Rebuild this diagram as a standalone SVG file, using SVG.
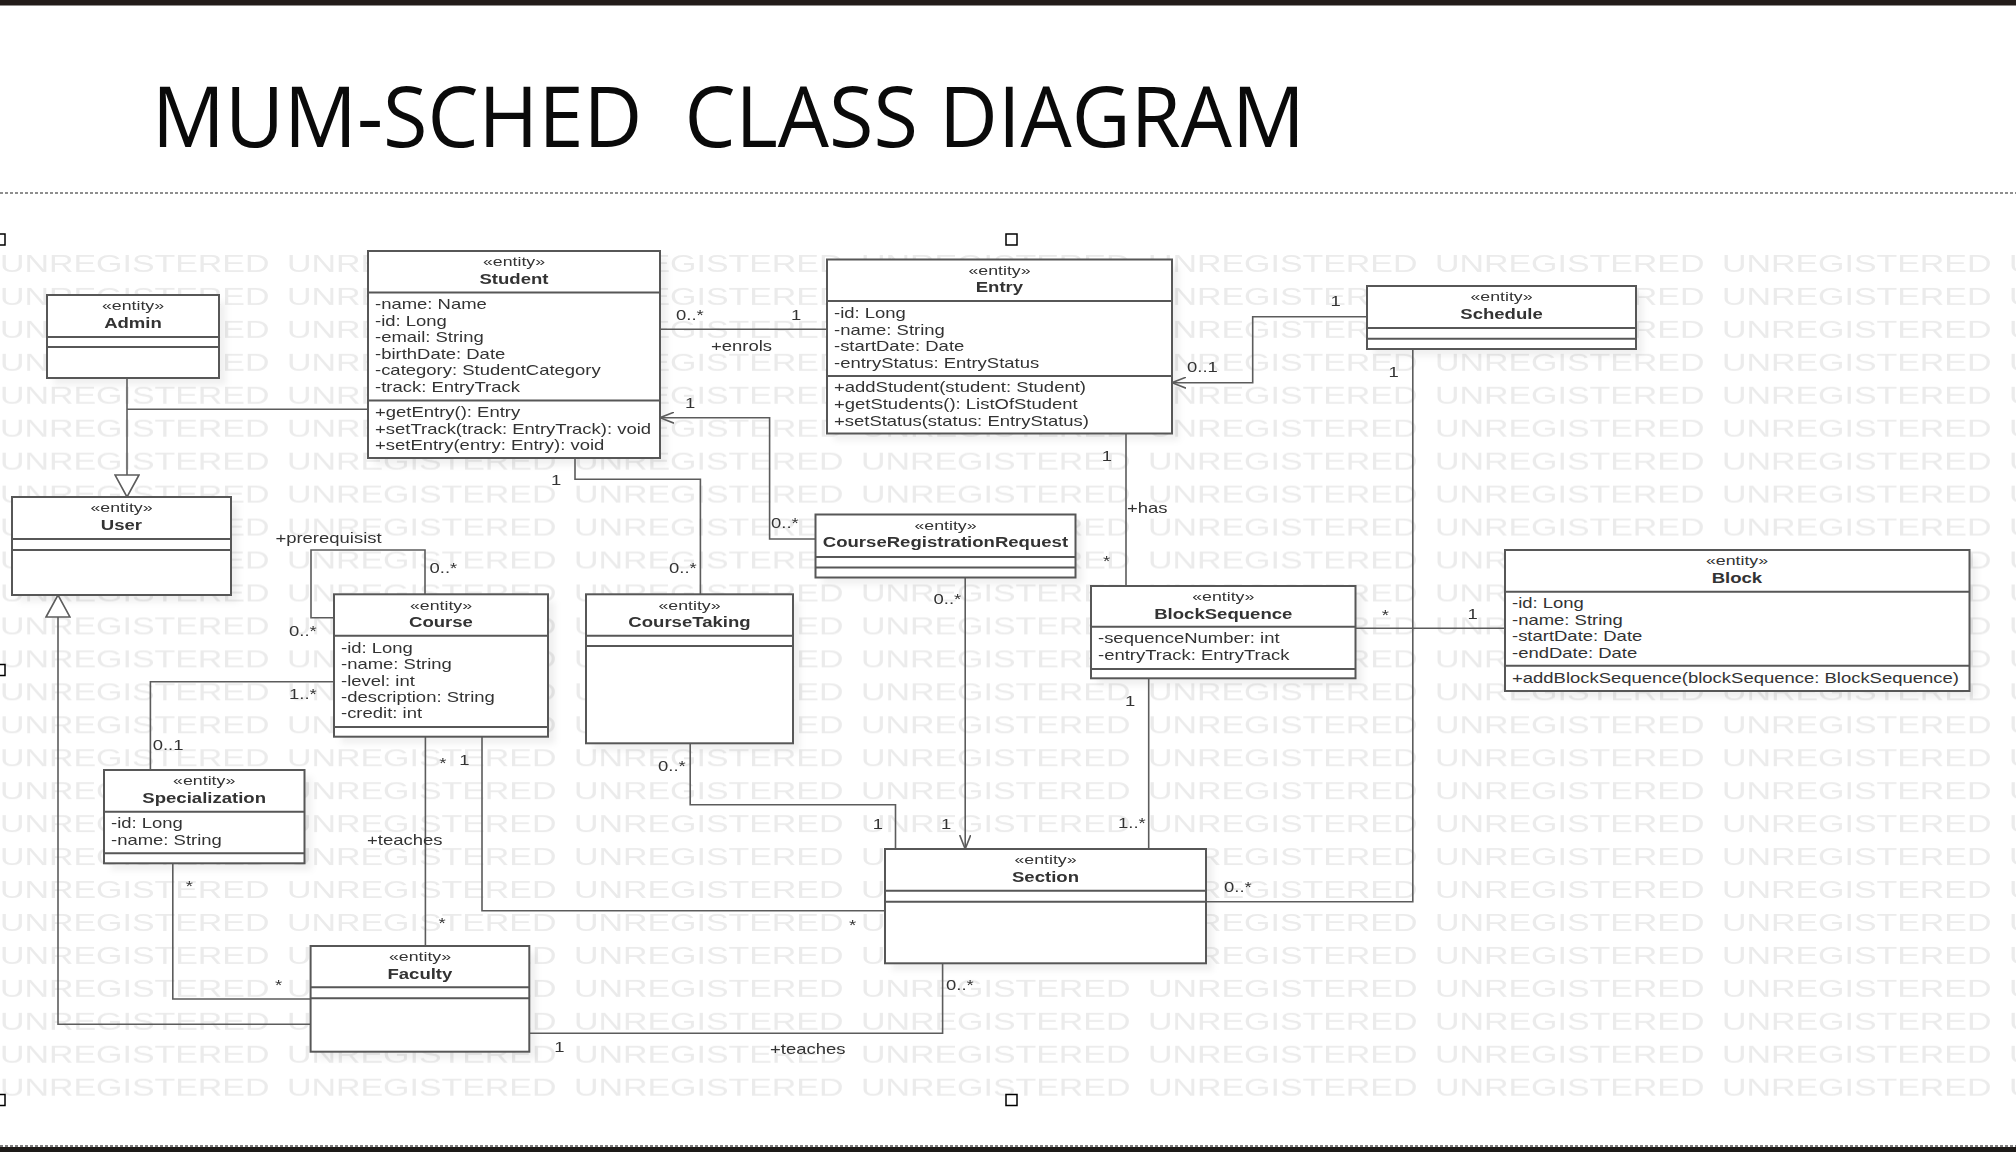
<svg xmlns="http://www.w3.org/2000/svg" width="2016" height="1152" viewBox="0 0 2016 1152">
<style>
text{font-family:"Liberation Sans",Arial,sans-serif;fill:#333}
.title{font-family:"Open Sans","Noto Sans",sans-serif;font-size:84px;fill:#0a0a0a;white-space:pre}
.wm{font-size:24.5px;fill:#ebebeb}
.box{fill:#fff;stroke:#575757;stroke-width:2}
.dv{stroke:#575757;stroke-width:2;fill:none}
.sh{fill:#000;opacity:.06}
.ln{fill:none;stroke:#5c5c5c;stroke-width:1.6}
.st{font-size:12.5px;text-anchor:middle;transform-box:fill-box;transform-origin:50% 50%;transform:scaleX(1.42)}
.nm{font-size:14.5px;font-weight:bold;text-anchor:middle;transform-box:fill-box;transform-origin:50% 50%;transform:scaleX(1.28)}
.at,.lb{font-size:14px;transform-box:fill-box;transform-origin:0 50%;transform:scaleX(1.32)}
.hd{fill:#fff;stroke:#000;stroke-width:1.5}
</style>
<defs>
<pattern id="wm" patternUnits="userSpaceOnUse" x="0" y="252" width="287" height="32.95">
<text x="0" y="19.7" transform="scale(1.385 1)" class="wm">UNREGISTERED</text>
</pattern>
<marker id="arr" viewBox="0 0 14 12" refX="14" refY="6" markerWidth="14" markerHeight="12" markerUnits="userSpaceOnUse" orient="auto">
<path d="M0,0.5 L14,6 L0,11.5" fill="none" stroke="#5c5c5c" stroke-width="1.6"/>
</marker>
<marker id="gen" viewBox="0 0 24 26" refX="23" refY="13" markerWidth="24" markerHeight="26" markerUnits="userSpaceOnUse" orient="auto">
<path d="M1,1 L23,13 L1,25 Z" fill="#fff" stroke="#5c5c5c" stroke-width="1.6"/>
</marker>
<filter id="blur" x="-10%" y="-10%" width="120%" height="120%"><feGaussianBlur stdDeviation="3"/></filter>
</defs>
<rect x="0" y="0" width="2016" height="1152" fill="#fff"/>
<rect x="0" y="0" width="2016" height="5.5" fill="#231c19"/>
<text class="title" x="152" y="147" textLength="1153" lengthAdjust="spacingAndGlyphs" xml:space="preserve">MUM-SCHED  CLASS DIAGRAM</text>
<line x1="0" y1="193" x2="2016" y2="193" stroke="#6a6a6a" stroke-width="1.5" stroke-dasharray="3 2"/>
<rect x="0" y="252" width="2016" height="856.7" fill="url(#wm)"/>
<line x1="0" y1="1146" x2="2016" y2="1146" stroke="#555" stroke-width="1.5" stroke-dasharray="3 2"/>
<rect x="0" y="1147" width="2016" height="5" fill="#1d1a18"/>
<g id="handles">
<rect class="hd" x="-6" y="234" width="11" height="11"/>
<rect class="hd" x="1006" y="234" width="11" height="11"/>
<rect class="hd" x="-6" y="664.5" width="11" height="11"/>
<rect class="hd" x="-6" y="1094.5" width="11" height="11"/>
<rect class="hd" x="1006" y="1094.5" width="11" height="11"/>
</g>
<g id="shadows" filter="url(#blur)">
<rect class="sh" x="54" y="302" width="172" height="83"/>
<rect class="sh" x="19" y="504" width="219" height="98"/>
<rect class="sh" x="375" y="258" width="292" height="207"/>
<rect class="sh" x="834" y="266.5" width="345" height="174"/>
<rect class="sh" x="1374" y="293" width="269" height="63"/>
<rect class="sh" x="822.5" y="521.5" width="260" height="63"/>
<rect class="sh" x="1512" y="557" width="464.5" height="141"/>
<rect class="sh" x="1098" y="593" width="264.5" height="92.3"/>
<rect class="sh" x="341" y="601.3" width="214" height="142.4"/>
<rect class="sh" x="593" y="601.3" width="207" height="149"/>
<rect class="sh" x="111" y="777" width="200.5" height="93.3"/>
<rect class="sh" x="892" y="856" width="321" height="114.3"/>
<rect class="sh" x="317.6" y="953" width="218.7" height="105.7"/>
</g>
<g id="connectors">
<path class="ln" d="M127,378 V497" marker-end="url(#gen)"/>
<path class="ln" d="M368,409.3 H127"/>
<path class="ln" d="M310.6,1024.3 H58 V595" marker-end="url(#gen)"/>
<path class="ln" d="M660,329.3 H827"/>
<path class="ln" d="M815.6,539 H769.6 V417.7 H660" marker-end="url(#arr)"/>
<path class="ln" d="M575,458 V479.3 H700.4 V594.3"/>
<path class="ln" d="M1367,316.7 H1252.7 V382.7 H1172" marker-end="url(#arr)"/>
<path class="ln" d="M1126,433.3 V586"/>
<path class="ln" d="M965.2,577.7 V849" marker-end="url(#arr)"/>
<path class="ln" d="M1355.7,628.3 H1505"/>
<path class="ln" d="M1148.7,678.3 V849"/>
<path class="ln" d="M1206,901.7 H1412.8 V348.7"/>
<path class="ln" d="M690.2,743.3 V804.7 H895.5 V849"/>
<path class="ln" d="M425,594.3 V550 H311 V617.7 H334"/>
<path class="ln" d="M334,681.7 H150.4 V770"/>
<path class="ln" d="M425.4,736.7 V946"/>
<path class="ln" d="M482,736.7 V910.7 H885"/>
<path class="ln" d="M172.8,863.3 V999 H310.6"/>
<path class="ln" d="M529.3,1033.3 H942.6 V963.3"/>
</g>
<g id="labels">
<text class="lb" x="676" y="320">0..*</text>
<text class="lb" x="791" y="320">1</text>
<text class="lb" x="711" y="351">+enrols</text>
<text class="lb" x="685" y="407.7">1</text>
<text class="lb" x="771" y="528">0..*</text>
<text class="lb" x="551" y="485">1</text>
<text class="lb" x="669" y="573">0..*</text>
<text class="lb" x="1330.5" y="306">1</text>
<text class="lb" x="1187" y="372">0..1</text>
<text class="lb" x="1101.7" y="461">1</text>
<text class="lb" x="1127" y="512.7">+has</text>
<text class="lb" x="1103" y="566">*</text>
<text class="lb" x="933.5" y="604.3">0..*</text>
<text class="lb" x="941" y="829">1</text>
<text class="lb" x="1381.8" y="619.7">*</text>
<text class="lb" x="1467.6" y="619.3">1</text>
<text class="lb" x="1125" y="706">1</text>
<text class="lb" x="1118" y="828.3">1..*</text>
<text class="lb" x="1224" y="891.7">0..*</text>
<text class="lb" x="1388.6" y="376.7">1</text>
<text class="lb" x="658" y="770.7">0..*</text>
<text class="lb" x="872.7" y="829">1</text>
<text class="lb" x="275.4" y="543.3">+prerequisist</text>
<text class="lb" x="429.5" y="573.3">0..*</text>
<text class="lb" x="289" y="635.7">0..*</text>
<text class="lb" x="289" y="699.3">1..*</text>
<text class="lb" x="152.7" y="750">0..1</text>
<text class="lb" x="439.3" y="768">*</text>
<text class="lb" x="367" y="845">+teaches</text>
<text class="lb" x="438.4" y="928">*</text>
<text class="lb" x="459.3" y="765">1</text>
<text class="lb" x="849" y="929.7">*</text>
<text class="lb" x="185.8" y="891.3">*</text>
<text class="lb" x="275" y="989.7">*</text>
<text class="lb" x="554.3" y="1051.7">1</text>
<text class="lb" x="770" y="1054.3">+teaches</text>
<text class="lb" x="946" y="990">0..*</text>
</g>
<g id="Admin">
<rect class="box" x="47" y="295" width="172" height="83"/>
<path class="dv" d="M47,337 H219 M47,347 H219"/>
<text class="st" x="133" y="310.5">«entity»</text>
<text class="nm" x="133" y="328">Admin</text>
</g>
<g id="User">
<rect class="box" x="12" y="497" width="219" height="98"/>
<path class="dv" d="M12,539 H231 M12,550 H231"/>
<text class="st" x="121.5" y="512.2">«entity»</text>
<text class="nm" x="121.5" y="529.7">User</text>
</g>
<g id="Student">
<rect class="box" x="368" y="251" width="292" height="207"/>
<path class="dv" d="M368,292.5 H660 M368,400.5 H660"/>
<text class="st" x="514" y="266.5">«entity»</text>
<text class="nm" x="514" y="284">Student</text>
<text class="at" x="375" y="309.5">-name: Name</text>
<text class="at" x="375" y="326">-id: Long</text>
<text class="at" x="375" y="342.5">-email: String</text>
<text class="at" x="375" y="359">-birthDate: Date</text>
<text class="at" x="375" y="375.5">-category: StudentCategory</text>
<text class="at" x="375" y="392">-track: EntryTrack</text>
<text class="at" x="375" y="417.3">+getEntry(): Entry</text>
<text class="at" x="375" y="433.6">+setTrack(track: EntryTrack): void</text>
<text class="at" x="375" y="450">+setEntry(entry: Entry): void</text>
</g>
<g id="Entry">
<rect class="box" x="827" y="259.5" width="345" height="174"/>
<path class="dv" d="M827,301 H1172 M827,376 H1172"/>
<text class="st" x="999.5" y="275">«entity»</text>
<text class="nm" x="999.5" y="292.5">Entry</text>
<text class="at" x="834" y="318.3">-id: Long</text>
<text class="at" x="834" y="334.6">-name: String</text>
<text class="at" x="834" y="351">-startDate: Date</text>
<text class="at" x="834" y="367.7">-entryStatus: EntryStatus</text>
<text class="at" x="834" y="392.3">+addStudent(student: Student)</text>
<text class="at" x="834" y="409">+getStudents(): ListOfStudent</text>
<text class="at" x="834" y="425.7">+setStatus(status: EntryStatus)</text>
</g>
<g id="Schedule">
<rect class="box" x="1367" y="286" width="269" height="63"/>
<path class="dv" d="M1367,328 H1636 M1367,338.7 H1636"/>
<text class="st" x="1501.5" y="301.5">«entity»</text>
<text class="nm" x="1501.5" y="319">Schedule</text>
</g>
<g id="CourseRegistrationRequest">
<rect class="box" x="815.5" y="514.5" width="260" height="63"/>
<path class="dv" d="M815.5,557 H1075.5 M815.5,567.5 H1075.5"/>
<text class="st" x="945.5" y="530">«entity»</text>
<text class="nm" x="945.5" y="547.5">CourseRegistrationRequest</text>
</g>
<g id="Block">
<rect class="box" x="1505" y="550" width="464.5" height="141"/>
<path class="dv" d="M1505,591.7 H1969.5 M1505,665.7 H1969.5"/>
<text class="st" x="1737" y="565.5">«entity»</text>
<text class="nm" x="1737" y="583">Block</text>
<text class="at" x="1512" y="608.5">-id: Long</text>
<text class="at" x="1512" y="625">-name: String</text>
<text class="at" x="1512" y="641.5">-startDate: Date</text>
<text class="at" x="1512" y="658">-endDate: Date</text>
<text class="at" x="1512" y="683.3">+addBlockSequence(blockSequence: BlockSequence)</text>
</g>
<g id="BlockSequence">
<rect class="box" x="1091" y="586" width="264.5" height="92.3"/>
<path class="dv" d="M1091,626.7 H1355.5 M1091,669 H1355.5"/>
<text class="st" x="1223.3" y="601.5">«entity»</text>
<text class="nm" x="1223.3" y="619">BlockSequence</text>
<text class="at" x="1098" y="643.5">-sequenceNumber: int</text>
<text class="at" x="1098" y="660">-entryTrack: EntryTrack</text>
</g>
<g id="Course">
<rect class="box" x="334" y="594.3" width="214" height="142.4"/>
<path class="dv" d="M334,635.7 H548 M334,727 H548"/>
<text class="st" x="441" y="609.8">«entity»</text>
<text class="nm" x="441" y="627.3">Course</text>
<text class="at" x="341" y="653">-id: Long</text>
<text class="at" x="341" y="669.3">-name: String</text>
<text class="at" x="341" y="685.6">-level: int</text>
<text class="at" x="341" y="702">-description: String</text>
<text class="at" x="341" y="718.3">-credit: int</text>
</g>
<g id="CourseTaking">
<rect class="box" x="586" y="594.3" width="207" height="149"/>
<path class="dv" d="M586,635.7 H793 M586,646 H793"/>
<text class="st" x="689.5" y="609.8">«entity»</text>
<text class="nm" x="689.5" y="627.3">CourseTaking</text>
</g>
<g id="Specialization">
<rect class="box" x="104" y="770" width="200.5" height="93.3"/>
<path class="dv" d="M104,811.7 H304.5 M104,853.3 H304.5"/>
<text class="st" x="204.2" y="785.5">«entity»</text>
<text class="nm" x="204.2" y="803">Specialization</text>
<text class="at" x="111" y="828.5">-id: Long</text>
<text class="at" x="111" y="845">-name: String</text>
</g>
<g id="Section">
<rect class="box" x="885" y="849" width="321" height="114.3"/>
<path class="dv" d="M885,890.7 H1206 M885,901.7 H1206"/>
<text class="st" x="1045.5" y="864.5">«entity»</text>
<text class="nm" x="1045.5" y="882">Section</text>
</g>
<g id="Faculty">
<rect class="box" x="310.6" y="946" width="218.7" height="105.7"/>
<path class="dv" d="M310.6,987.3 H529.3 M310.6,998.3 H529.3"/>
<text class="st" x="420" y="961.5">«entity»</text>
<text class="nm" x="420" y="979">Faculty</text>
</g>
</svg>
